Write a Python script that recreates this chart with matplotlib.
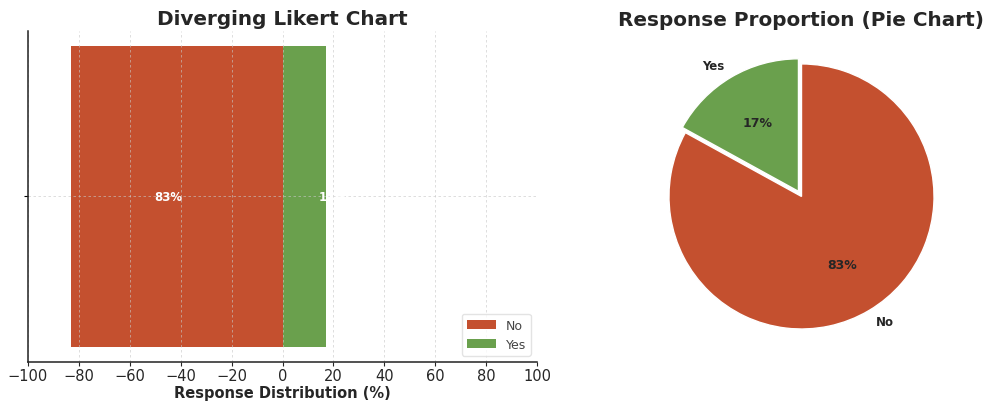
import matplotlib
matplotlib.use("Agg")
import matplotlib.pyplot as plt

# Survey responses (percent)
categories = ["No", "Yes"]
values = [83, 17]
colors = ["#C4502F", "#6AA04D"]
question = [""]
xticks = [-100, -80, -60, -40, -20, 0, 20, 40, 60, 80, 100]

plt.rcParams["font.family"] = ["DejaVu Sans"]
text_dark = "#262626"

fig = plt.figure(figsize=(9.83, 4.02), dpi=100)

# ---- Diverging bar ----
ax = fig.add_axes([0.0285, 0.097, 0.5178, 0.8236])
no_val, yes_val = values
ax.barh(question, [-no_val], left=0, color=colors[0], label=categories[0], height=0.6)
ax.barh(question, [yes_val], left=0, color=colors[1], label=categories[1], height=0.6)

# value labels, nudged from each segment's midpoint
label_offsets = {"No": -6.4, "Yes": 20.4}
for name, v, sign in [("No", no_val, -1), ("Yes", yes_val, 1)]:
    ax.annotate(f"{v}%", xy=(sign * v / 2, 0), xytext=(label_offsets[name], 0),
                textcoords="offset points", ha="center", va="center",
                color="white", fontsize=8.5, fontweight="bold")

ax.set_xlim(-100, 100)
ax.set_xticks(xticks)
ax.tick_params(axis="x", labelsize=10.5, colors=text_dark, length=3, pad=1.5)
ax.tick_params(axis="y", length=3)
ax.grid(True, linestyle=(0, (3, 3)), color="#c8c8c8", linewidth=0.6, alpha=0.7)
for s in ["top", "right"]:
    ax.spines[s].set_visible(False)
for s in ["left", "bottom"]:
    ax.spines[s].set_color("#222222")
    ax.spines[s].set_linewidth(1.1)
ax.set_xlabel("Response Distribution (%)", fontsize=10.5, fontweight="bold",
              color=text_dark, labelpad=1)
ax.set_title("Diverging Likert Chart", fontsize=14.4, fontweight="bold",
             color=text_dark, pad=5)
leg = ax.legend(loc="lower right", fontsize=9, frameon=True, handlelength=2.3,
                borderaxespad=0.5)
leg.get_frame().set_edgecolor("#dddddd")
for t in leg.get_texts():
    t.set_color("#444444")

# ---- Pie ----
pax = fig.add_axes([(801.5 - 165) / 983, 0.097, 330 / 983, 0.8236])
wedges, texts, autotexts = pax.pie(
    values, labels=categories, colors=colors, autopct="%1.0f%%",
    startangle=90, counterclock=False, explode=[0, 0.045],
    wedgeprops=dict(edgecolor="white", linewidth=1.0),
    textprops=dict(fontsize=8.5, fontweight="bold", color=text_dark),
)
for t in autotexts:
    t.set_fontsize(9)
pax.set_xlim(-1.245, 1.245)
pax.set_ylim(-1.245, 1.245)
pax.set_aspect("equal")
pax.set_title("Response Proportion (Pie Chart)", fontsize=14.4, fontweight="bold",
              color=text_dark, pad=5)

fig.savefig("out.png", dpi=100, facecolor="white")
